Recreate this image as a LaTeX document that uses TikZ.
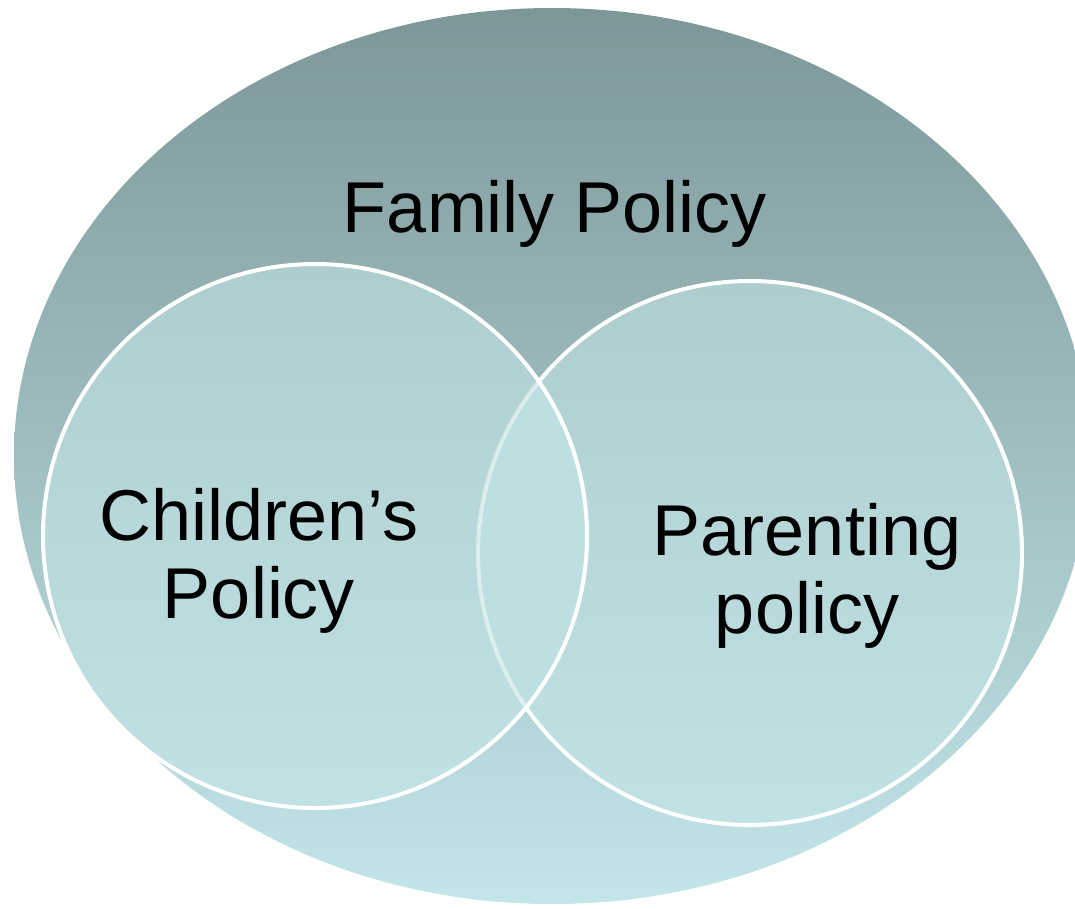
\documentclass[tikz,border=0pt]{standalone}
\usepackage{fontspec}
\setmainfont{Liberation Sans}
\definecolor{ellTop}{HTML}{7D9799}
\definecolor{ellBot}{HTML}{C3E6EA}
\definecolor{cirTop}{HTML}{AECDCF}
\definecolor{cirBot}{HTML}{C1E2E5}
\definecolor{lensCol}{HTML}{BEDFE2}
\tikzset{
  lbl/.style={font=\fontsize{72}{77.5}\selectfont, align=center, anchor=base, inner sep=0pt, text=black},
  ring/.style={draw=white, line width=4pt}
}
\begin{document}
\begin{tikzpicture}[x=1pt,y=-1pt]
\useasboundingbox (0,0) rectangle (1075,908);
\clip (0,0) rectangle (1075,908);
% outer ellipse
\shade[top color=ellTop, bottom color=ellBot] (552,456) ellipse [x radius=538, y radius=448];
% right circle
\shade[top color=cirTop, bottom color=cirBot] (750,553) circle [radius=272];
\draw[ring] (750,553) circle [radius=272];
% left circle
\shade[top color=cirTop, bottom color=cirBot] (315,536) circle [radius=272];
% lens
\begin{scope}
  \clip (315,536) circle [radius=272];
  \fill[lensCol] (750,553) circle [radius=272];
  \draw[ring, draw opacity=0.5] (750,553) circle [radius=272];
\end{scope}
\draw[ring] (315,536) circle [radius=272];
% labels
\node[lbl] (family) at (555,232) {Family Policy};
\node[lbl] (children) at (259,618) {Children’s\\Policy};
\node[lbl] (parenting) at (807,633) {Parenting\\policy};
\end{tikzpicture}
\end{document}
